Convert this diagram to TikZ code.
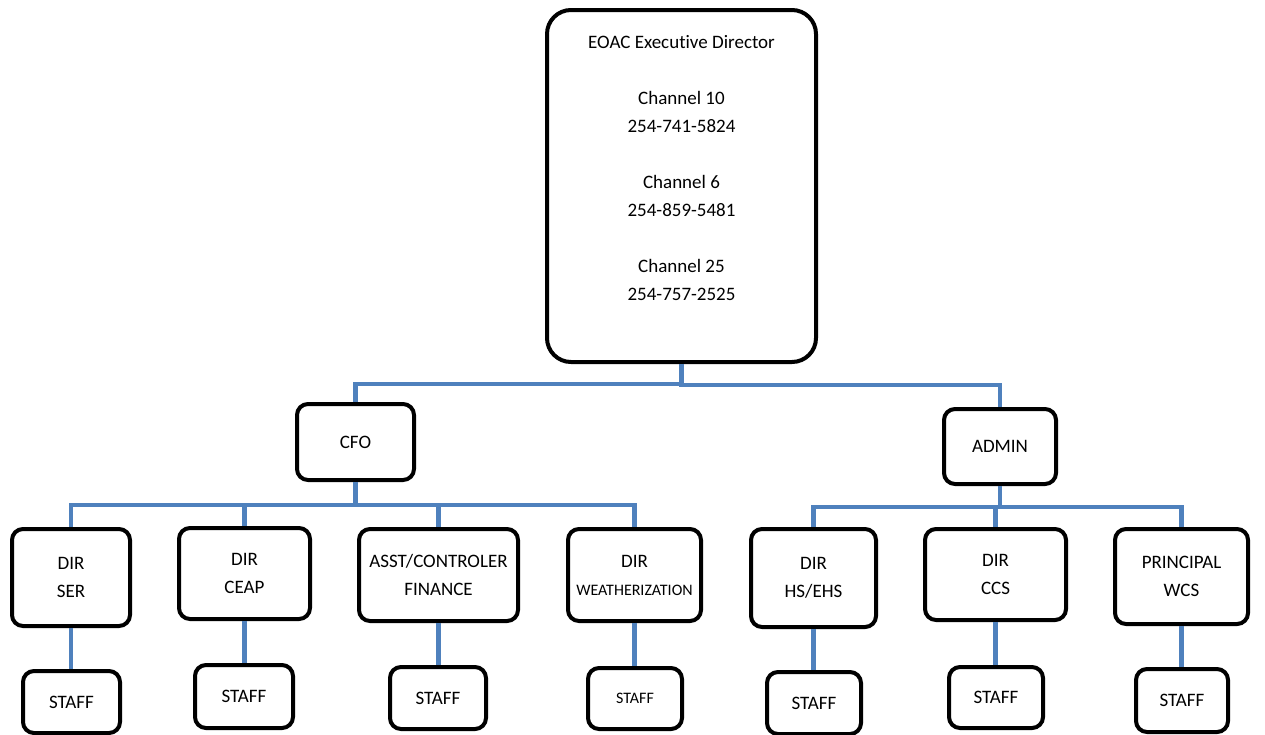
\documentclass[tikz,border=0pt]{standalone}
\usepackage{fontspec}
\setmainfont{Carlito}[Ligatures={NoCommon,NoContextual}]
\definecolor{linkblue}{RGB}{79,129,189}
\newcommand{\smallsz}{\fontsize{16}{28}\selectfont}
\begin{document}
\begin{tikzpicture}[x=1pt,y=-1pt,
  box/.style={draw=black,line width=4pt,rounded corners=11pt,fill=white,align=center,inner sep=0pt,
    font=\fontsize{19}{28}\selectfont},
  bigbox/.style={box,rounded corners=24pt},
  smallbox/.style={box,font=\smallsz},
  conn/.style={draw=linkblue,line width=4.5pt}]
\useasboundingbox (0,0) rectangle (1265,734);
\clip (0,0) rectangle (1265,734);
% nodes
\node[bigbox,minimum width=269pt,minimum height=352pt] (exec) at (681.5,186)
  {EOAC Executive Director\\[28pt]Channel 10\\254-741-5824\\[28pt]Channel 6\\254-859-5481\\[28pt]Channel 25\\254-757-2525\\ \strut};
\node[box,minimum width=117pt,minimum height=76pt] (cfo) at (355.5,442) {CFO};
\node[box,minimum width=112pt,minimum height=75pt] (admin) at (1000,446.5) {ADMIN};
\node[box,minimum width=118pt,minimum height=97pt] (ser) at (71,577.5) {DIR\\SER};
\node[box,minimum width=131pt,minimum height=91pt] (ceap) at (244.5,573.5) {DIR\\CEAP};
\node[box,minimum width=159pt,minimum height=92pt] (asst) at (438.5,575) {ASST/CONTROLER\\FINANCE};
\node[box,minimum width=133pt,minimum height=92pt] (weath) at (634.5,575) {DIR\\{\smallsz WEATHERIZATION}};
\node[box,minimum width=125pt,minimum height=98pt] (hs) at (813.5,578) {DIR\\HS/EHS};
\node[box,minimum width=141pt,minimum height=91pt] (ccs) at (995.5,574.5) {DIR\\CCS};
\node[box,minimum width=133pt,minimum height=95pt] (wcs) at (1181.5,576.5) {PRINCIPAL\\WCS};
\node[box,minimum width=97pt,minimum height=62pt] (s1) at (71.5,702) {STAFF};
\node[box,minimum width=98pt,minimum height=63pt] (s2) at (244,696.5) {STAFF};
\node[box,minimum width=96pt,minimum height=62pt] (s3) at (438,698) {STAFF};
\node[smallbox,minimum width=94pt,minimum height=61pt] (s4) at (635,698.5) {STAFF};
\node[box,minimum width=94pt,minimum height=62pt] (s5) at (814,703) {STAFF};
\node[box,minimum width=94pt,minimum height=61pt] (s6) at (996,697.5) {STAFF};
\node[box,minimum width=92pt,minimum height=63pt] (s7) at (1182,700.5) {STAFF};
% connectors
\path[conn] (exec.south) -- ++(0,20) -| (cfo.north);
\path[conn] (exec.south) -- ++(0,21) -| (admin.north);
\foreach \c in {ser,ceap,asst,weath}
  \path[conn] (cfo.south) -- ++(0,23) -| (\c.north);
\foreach \c in {hs,ccs,wcs}
  \path[conn] (admin.south) -- ++(0,21) -| (\c.north);
\path[conn] (ser.south) -- (ser.south |- s1.north);
\path[conn] (ceap.south) -- (ceap.south |- s2.north);
\path[conn] (asst.south) -- (asst.south |- s3.north);
\path[conn] (weath.south) -- (weath.south |- s4.north);
\path[conn] (hs.south) -- (hs.south |- s5.north);
\path[conn] (ccs.south) -- (ccs.south |- s6.north);
\path[conn] (wcs.south) -- (wcs.south |- s7.north);
\end{tikzpicture}
\end{document}
